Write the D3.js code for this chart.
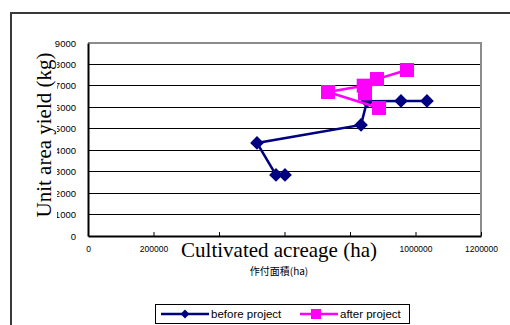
<!DOCTYPE html>
<html>
<head>
<meta charset="utf-8">
<script src="https://cdn.jsdelivr.net/npm/d3@7"></script>
<style>
body{margin:0;padding:0;background:#fff;}
svg{display:block;}
</style>
</head>
<body>
<svg id="chart" width="510" height="325"></svg>
<script>
// Data
const xTicks = [0, 200000, 400000, 600000, 800000, 1000000, 1200000];
const xTicksHidden = [400000, 600000, 800000]; // covered by the axis title in the reference
const yTicks = [0, 1000, 2000, 3000, 4000, 5000, 6000, 7000, 8000, 9000];
const seriesNames = ["before project", "after project"];
const beforeX = [601500, 574000, 516000, 833600, 852000, 955700, 1035000];
const beforeY = [2850, 2850, 4340, 5180, 6280, 6300, 6300];
const afterX = [888500, 732800, 841800, 845800, 882400, 974000];
const afterY = [5970, 6715, 7010, 6650, 7320, 7740];
const xTitle = "Cultivated acreage (ha)";
const xSubTitle = "作付面積(ha)";
const yTitle = "Unit area yield (kg)";

const svg = d3.select("#chart");
const L = 88, R = 481, T = 43, B = 236;
const x = d3.scaleLinear().domain([0, 1200000]).range([L, R]);
const y = d3.scaleLinear().domain([0, 9000]).range([B, T]);

// outer frame
svg.append("path").attr("d", `M11,330 L11,13 L520,13`)
  .attr("fill", "none").attr("stroke", "#3a3a3a").attr("stroke-width", 2);

// gridlines
svg.append("g").selectAll("line").data(yTicks.filter(d => d > 0 && d < 9000)).join("line")
  .attr("x1", L).attr("x2", R).attr("y1", d => y(d)).attr("y2", d => y(d))
  .attr("stroke", "#000").attr("stroke-width", 1).attr("shape-rendering", "crispEdges");

// plot border top/right gray
svg.append("path").attr("d", `M${L},${T} L${R},${T} L${R},${B}`)
  .attr("fill", "none").attr("stroke", "#8c8c8c").attr("stroke-width", 2);

// axes
const xAxis = d3.axisBottom(x).tickValues(xTicks).tickSizeInner(-4).tickSizeOuter(0).tickPadding(10)
  .tickFormat(d => xTicksHidden.includes(d) ? "" : d3.format("d")(d));
const gx = svg.append("g").attr("transform", `translate(0,${B})`).call(xAxis);
gx.select(".domain").attr("stroke", "#000").attr("stroke-width", 2);
gx.selectAll(".tick line").attr("stroke", "#000");
gx.selectAll("text").attr("font-family", "Liberation Sans, Arial, sans-serif").attr("font-size", 8.5).attr("fill", "#000");

const yAxis = d3.axisLeft(y).tickValues(yTicks).tickSize(0).tickPadding(12).tickFormat(d3.format("d"));
const gy = svg.append("g").attr("transform", `translate(${L},0)`).call(yAxis);
gy.select(".domain").attr("stroke", "#000").attr("stroke-width", 2);
gy.selectAll("text").attr("font-family", "Liberation Sans, Arial, sans-serif").attr("font-size", 9.5).attr("fill", "#000");

// series
const navy = "#000080", pink = "#ff00ff";
const bData = beforeX.map((v, i) => [v, beforeY[i]]);
const aData = afterX.map((v, i) => [v, afterY[i]]);
const line = d3.line().x(d => x(d[0])).y(d => y(d[1]));

svg.append("path").datum(bData).attr("d", line).attr("fill", "none").attr("stroke", navy).attr("stroke-width", 2.5);
svg.append("g").selectAll("path").data(bData).join("path")
  .attr("d", d3.symbol(d3.symbolDiamond2, 120)())
  .attr("transform", d => `translate(${x(d[0])},${y(d[1])})`)
  .attr("fill", navy);

svg.append("path").datum(aData).attr("d", line).attr("fill", "none").attr("stroke", pink).attr("stroke-width", 2.5);
svg.append("g").selectAll("rect").data(aData).join("rect")
  .attr("x", d => x(d[0]) - 7).attr("y", d => y(d[1]) - 7)
  .attr("width", 14).attr("height", 14).attr("fill", pink);

// y title with white background
const yt = svg.append("g").attr("transform", "translate(51,135) rotate(-90)");
yt.append("rect").attr("x", -84).attr("y", -17).attr("width", 168).attr("height", 23).attr("fill", "#fff");
yt.append("text").attr("text-anchor", "middle").attr("font-family", "Liberation Serif, Times New Roman, serif")
  .attr("font-size", 21).attr("fill", "#000").text(yTitle);

// x title with white background
const xt = svg.append("g").attr("transform", "translate(279,257)");
xt.append("rect").attr("x", -100).attr("y", -16).attr("width", 200).attr("height", 22).attr("fill", "#fff");
xt.append("text").attr("text-anchor", "middle").attr("font-family", "Liberation Serif, Times New Roman, serif")
  .attr("font-size", 21).attr("fill", "#000").text(xTitle);

svg.append("text").attr("x", 279).attr("y", 275).attr("text-anchor", "middle")
  .attr("font-family", "Noto Sans CJK JP, sans-serif").attr("font-size", 10).attr("fill", "#000").text(xSubTitle);

// legend
const lg = svg.append("g");
lg.append("rect").attr("x", 155.5).attr("y", 304.5).attr("width", 254).attr("height", 19)
  .attr("fill", "#fff").attr("stroke", "#000").attr("stroke-width", 1);
const ly = 314;
lg.append("line").attr("x1", 161).attr("x2", 209).attr("y1", ly).attr("y2", ly).attr("stroke", navy).attr("stroke-width", 2.5);
lg.append("path").attr("d", d3.symbol(d3.symbolDiamond2, 50)()).attr("transform", `translate(185,${ly})`).attr("fill", navy);
lg.append("text").attr("x", 211).attr("y", ly + 4).attr("font-family", "Liberation Sans, Arial, sans-serif").attr("font-size", 11.5).attr("fill", "#000").text(seriesNames[0]);
lg.append("line").attr("x1", 300).attr("x2", 338).attr("y1", ly).attr("y2", ly).attr("stroke", pink).attr("stroke-width", 2.5);
lg.append("rect").attr("x", 311).attr("y", ly - 5).attr("width", 10).attr("height", 10).attr("fill", pink);
lg.append("text").attr("x", 340).attr("y", ly + 4).attr("font-family", "Liberation Sans, Arial, sans-serif").attr("font-size", 11.5).attr("fill", "#000").text(seriesNames[1]);
</script>
</body>
</html>
